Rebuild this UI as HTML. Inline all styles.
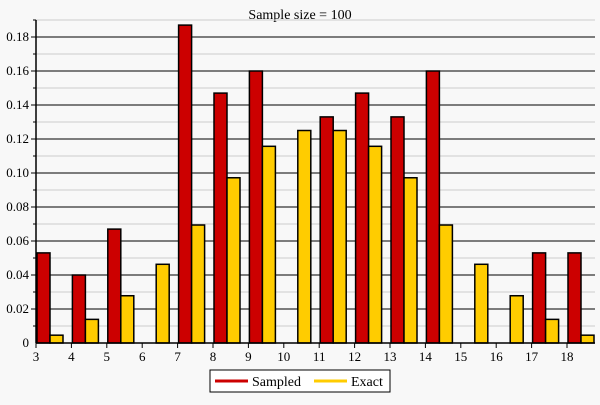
<!DOCTYPE html>
<html><head><meta charset="utf-8"><style>
body{margin:0;background:#f8f8f8;font-family:"Liberation Serif",serif;}
svg text{font-family:"Liberation Serif",serif;}
</style></head><body>
<svg width="600" height="400" id="c">
<rect width="600" height="400" fill="#f8f8f8"/>
<text x="300" y="19" text-anchor="middle" font-size="14">Sample size = 100</text>
<g id="grid"></g><g id="bars"></g><g id="axes"></g>
<g>
<rect x="210" y="370" width="180" height="22" fill="#fff" stroke="#000" stroke-width="1"/>
<line x1="215" y1="381" x2="248" y2="381" stroke="#cc0000" stroke-width="3"/>
<text x="252" y="386" font-size="14">Sampled</text>
<line x1="314" y1="381" x2="347" y2="381" stroke="#ffcc00" stroke-width="3"/>
<text x="351" y="386" font-size="14">Exact</text>
</g>
</svg>
<script>
const categories=[3,4,5,6,7,8,9,10,11,12,13,14,15,16,17,18];
const sampled=[0.053,0.04,0.067,0,0.187,0.147,0.16,0,0.133,0.147,0.133,0.16,0,0,0.053,0.053];
const exact=[0.0046,0.0139,0.0278,0.0463,0.0694,0.0972,0.1157,0.125,0.125,0.1157,0.0972,0.0694,0.0463,0.0278,0.0139,0.0046];
const yTicks=[0,0.02,0.04,0.06,0.08,0.10,0.12,0.14,0.16,0.18];
const yLabels=["0","0.02","0.04","0.06","0.08","0.10","0.12","0.14","0.16","0.18"];
const NS="http://www.w3.org/2000/svg";
const x0=36,x1=595,y0=343,step=35.4;
const y=v=>y0-v*1700;
const x=i=>x0+i*step;
function mk(p,t,a){const e=document.createElementNS(NS,t);for(const k in a)e.setAttribute(k,a[k]);document.getElementById(p).appendChild(e);return e;}
for(let k=1;k<=19;k++){const v=k*0.01;const major=k%2===0;
 const l=mk('grid','line',{x1:x0,x2:x1,y1:y(v),y2:y(v),stroke:major?'#000':'#ccc','stroke-width':1});
 
 
 const t=mk('axes','line',{x1:x0-(major?5:3),x2:x0,y1:y(v),y2:y(v),stroke:'#000'});
 
 }
categories.forEach((c,i)=>{
 const r=mk('bars','rect',{x:x(i)+1,y:y(sampled[i]),width:13,height:y0-y(sampled[i]),fill:'#cc0000',stroke:'#000','stroke-width':1.5});
 
 
 const e=mk('bars','rect',{x:x(i)+14,y:y(exact[i]),width:13,height:y0-y(exact[i]),fill:'#ffcc00',stroke:'#000','stroke-width':1.5});
 
 
 const t=mk('axes','line',{x1:x(i),x2:x(i),y1:y0,y2:y0+5,stroke:'#000'});
 
 
 const tx=mk('axes','text',{x:x(i),y:y0+18,'text-anchor':'middle','font-size':13});
 tx.textContent=c;
 
 
});
yTicks.forEach((v,i)=>{
 const tx=mk('axes','text',{x:x0-7,y:y(v)+4,'text-anchor':'end','font-size':13});
 tx.textContent=yLabels[i];
 
 
});
const ax=mk('axes','line',{x1:x0,x2:x0,y1:20,y2:y0,stroke:'#000','stroke-width':1.5});


const bx=mk('axes','line',{x1:x0,x2:x1,y1:y0,y2:y0,stroke:'#000','stroke-width':1.5});


</script>
</body></html>
